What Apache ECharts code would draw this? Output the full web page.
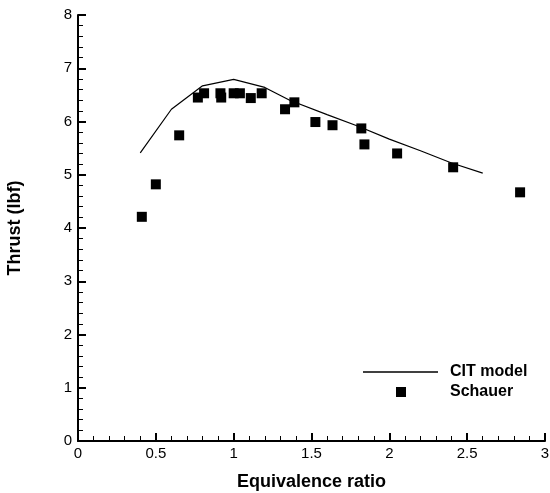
<!DOCTYPE html>
<html>
<head>
<meta charset="utf-8">
<script src="https://cdn.jsdelivr.net/npm/echarts@6/dist/echarts.min.js"></script>
<style>
  html, body { margin: 0; padding: 0; background: #fff; }
  #chart { width: 550px; height: 493px; }
</style>
</head>
<body>
<div id="chart"></div>
<script>
// CIT model curve
var modelPhi = [0.40, 0.60, 0.80, 1.00, 1.20, 1.36, 1.60, 1.80, 2.00, 2.20, 2.40, 2.60];
var modelThrust = [5.41, 6.23, 6.67, 6.79, 6.64, 6.40, 6.13, 5.91, 5.67, 5.45, 5.22, 5.03];

// Schauer measurements
var expPhi = [0.41, 0.50, 0.65, 0.77, 0.81, 0.915, 0.92, 1.00, 1.04, 1.11, 1.18, 1.33, 1.39, 1.525, 1.635, 1.82, 1.84, 2.05, 2.41, 2.84];
var expThrust = [4.21, 4.82, 5.74, 6.45, 6.53, 6.53, 6.45, 6.53, 6.53, 6.44, 6.53, 6.23, 6.36, 5.99, 5.93, 5.87, 5.57, 5.40, 5.14, 4.67];

function pairs(xs, ys) {
  var out = [];
  for (let i = 0; i < xs.length; i++) {
    out.push([xs[i], ys[i]]);
  }
  return out;
}

var font = "'Liberation Sans', Arial, sans-serif";

var myChart = echarts.init(document.getElementById("chart"));
myChart.setOption({
  animation: false,
  backgroundColor: "#fff",
  grid: { left: 78, right: 5, top: 15, bottom: 52, outerBoundsMode: "none", containLabel: false },
  legend: [
    {
      left: 363, top: 364, padding: 0, itemWidth: 75, itemHeight: 1.5,
      data: [{ name: "CIT model", icon: "rect" }],
      textStyle: { fontFamily: font, fontWeight: "bold", fontSize: 16, color: "#000", padding: [0, 0, 0, 7] }
    },
    {
      left: 396, top: 384, padding: 0, itemWidth: 10, itemHeight: 10,
      data: [{ name: "Schauer", icon: "rect" }],
      textStyle: { fontFamily: font, fontWeight: "bold", fontSize: 16, color: "#000", padding: [0, 0, 0, 39] }
    }
  ],
  xAxis: {
    type: "value", min: 0, max: 3, interval: 0.5,
    name: "Equivalence ratio", nameLocation: "middle", nameGap: 32,
    nameTextStyle: { fontFamily: font, fontWeight: "bold", fontSize: 18, color: "#000" },
    axisLine: { lineStyle: { color: "#000", width: 2 } },
    axisTick: { inside: true, length: 8, lineStyle: { color: "#000", width: 2 } },
    minorTick: { show: true, splitNumber: 5, length: 5, lineStyle: { color: "#000", width: 1 } },
    axisLabel: { fontFamily: font, fontSize: 15, color: "#000", margin: 5 },
    splitLine: { show: false }
  },
  yAxis: {
    type: "value", min: 0, max: 8, interval: 1,
    name: "Thrust (lbf)", nameLocation: "middle", nameGap: 54, nameRotate: 90,
    nameTextStyle: { fontFamily: font, fontWeight: "bold", fontSize: 18, color: "#000" },
    axisLine: { show: true, lineStyle: { color: "#000", width: 2 } },
    axisTick: { show: true, inside: true, length: 8, lineStyle: { color: "#000", width: 2 } },
    minorTick: { show: true, splitNumber: 5, length: 5, lineStyle: { color: "#000", width: 1 } },
    axisLabel: { fontFamily: font, fontSize: 15, color: "#000", margin: 6 },
    splitLine: { show: false }
  },
  series: [
    {
      name: "CIT model", type: "line", symbol: "none",
      lineStyle: { color: "#000", width: 1.2 },
      itemStyle: { color: "#000" },
      data: pairs(modelPhi, modelThrust)
    },
    {
      name: "Schauer", type: "scatter", symbol: "rect", symbolSize: 10,
      itemStyle: { color: "#000", opacity: 1 },
      data: pairs(expPhi, expThrust)
    }
  ]
});
</script>
</body>
</html>
